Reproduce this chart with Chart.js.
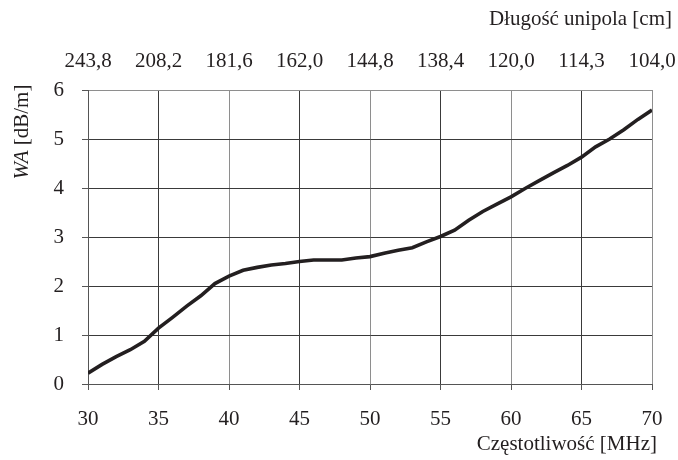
<!DOCTYPE html>
<html>
<head>
<meta charset="utf-8">
<script src="https://cdn.jsdelivr.net/npm/chart.js@4/dist/chart.umd.min.js"></script>
<style>
  html, body { margin: 0; padding: 0; background: #ffffff; }
  #wrap { width: 678px; height: 460px; }
</style>
</head>
<body>
<div id="wrap"><canvas id="c" width="678" height="460"></canvas></div>
<script>
// Frequency sweep [MHz] and measured attenuation WA [dB/m]
const freqMHz = [30, 31, 32, 33, 34, 35, 36, 37, 38, 39, 40, 41, 42, 43, 44, 45, 46, 47, 48, 49, 50,
                 51, 52, 53, 54, 55, 56, 57, 58, 59, 60, 61, 62, 63, 64, 65, 66, 67, 68, 69, 70];
const attenuation = [0.22, 0.40, 0.56, 0.70, 0.87, 1.14, 1.36, 1.59, 1.80, 2.05, 2.20, 2.32, 2.38, 2.43, 2.46, 2.50,
                     2.53, 2.53, 2.53, 2.57, 2.60, 2.67, 2.73, 2.78, 2.90, 3.01, 3.14, 3.34, 3.52, 3.67, 3.82,
                     3.99, 4.15, 4.31, 4.46, 4.63, 4.84, 5.00, 5.19, 5.40, 5.59];

// Bottom axis ticks and the matching monopole lengths shown on the top axis
const freqTicks = [30, 35, 40, 45, 50, 55, 60, 65, 70];
const monopoleLengthCm = ['243,8', '208,2', '181,6', '162,0', '144,8', '138,4', '120,0', '114,3', '104,0'];

const FONT = '"Liberation Serif", "Times New Roman", serif';
const INK = '#231f20';
const DARK_GRID = '#3a3a3a';
const LIGHT_GRID = '#8e8e8e';

const points = freqMHz.map((f, i) => ({ x: f, y: attenuation[i] }));

// Axis titles drawn by hand so "WA" can be italic and titles sit right-aligned
const titlesPlugin = {
  id: 'axisTitles',
  afterDraw(chart) {
    const ctx = chart.ctx;
    ctx.save();
    ctx.fillStyle = INK;
    ctx.textBaseline = 'middle';
    ctx.font = '21px ' + FONT;

    ctx.textAlign = 'right';
    ctx.fillText('Długość unipola [cm]', 672, 19);
    ctx.fillText('Częstotliwość [MHz]', 657, 444);

    // rotated y-axis title
    const italic = 'italic 21px ' + FONT;
    const normal = '21px ' + FONT;
    ctx.font = italic;
    const wA = ctx.measureText('WA').width;
    ctx.font = normal;
    const wRest = ctx.measureText(' [dB/m]').width;
    const total = wA + wRest;
    ctx.translate(22, 132);
    ctx.rotate(-Math.PI / 2);
    ctx.textAlign = 'left';
    ctx.font = italic;
    ctx.fillText('WA', -total / 2, 0);
    ctx.font = normal;
    ctx.fillText(' [dB/m]', -total / 2 + wA, 0);
    ctx.restore();
  }
};

const whiteBg = {
  id: 'whiteBg',
  beforeDraw(chart) {
    const ctx = chart.ctx;
    ctx.save();
    ctx.fillStyle = '#ffffff';
    ctx.fillRect(0, 0, chart.width, chart.height);
    ctx.restore();
  }
};

function noSidePadding(scale) {
  scale.paddingLeft = 0;
  scale.paddingRight = 0;
}

new Chart(document.getElementById('c'), {
  type: 'line',
  data: {
    datasets: [{
      data: points,
      borderColor: INK,
      borderWidth: 3.6,
      pointRadius: 0,
      tension: 0,
      fill: false
    }]
  },
  options: {
    responsive: false,
    devicePixelRatio: 1,
    animation: false,
    layout: { padding: { left: 0, right: 26, top: 0, bottom: 0 } },
    plugins: { legend: { display: false }, tooltip: { enabled: false } },
    scales: {
      x: {
        type: 'linear',
        position: 'bottom',
        min: 30, max: 70,
        afterBuildTicks(scale) { scale.ticks = freqTicks.map(v => ({ value: v })); },
        afterFit(scale) { scale.height = 76; noSidePadding(scale); },
        ticks: {
          color: INK,
          font: { family: FONT, size: 21 },
          padding: 17,
          maxRotation: 0,
          autoSkip: false
        },
        grid: {
          color: ctx => (ctx.tick && ctx.tick.value % 10 === 5) ? DARK_GRID : LIGHT_GRID,
          tickColor: '#555555',
          tickLength: 6,
          lineWidth: 1
        },
        border: { color: '#555555', width: 1 }
      },
      x2: {
        type: 'linear',
        position: 'top',
        min: 30, max: 70,
        afterBuildTicks(scale) { scale.ticks = freqTicks.map(v => ({ value: v })); },
        afterFit(scale) { scale.height = 90; noSidePadding(scale); },
        ticks: {
          color: INK,
          font: { family: FONT, size: 21 },
          padding: 16,
          maxRotation: 0,
          autoSkip: false,
          callback: (v) => {
            const i = freqTicks.indexOf(v);
            return i >= 0 ? monopoleLengthCm[i] : '';
          }
        },
        grid: { drawOnChartArea: false, drawTicks: false },
        border: { color: LIGHT_GRID, width: 1 }
      },
      y: {
        type: 'linear',
        min: 0, max: 6,
        afterFit(scale) { scale.width = 88; },
        ticks: {
          stepSize: 0.5,
          color: INK,
          font: { family: FONT, size: 21 },
          padding: 18,
          callback: v => Number.isInteger(v) ? String(v) : ''
        },
        grid: {
          color: ctx => {
            if (!ctx.tick) return LIGHT_GRID;
            const v = ctx.tick.value;
            if (v === 6 || v === 0) return LIGHT_GRID;
            return Number.isInteger(v) ? DARK_GRID : LIGHT_GRID;
          },
          tickColor: ctx => (ctx.tick && Number.isInteger(ctx.tick.value)) ? '#555555' : 'rgba(0,0,0,0)',
          tickLength: 6,
          lineWidth: 1
        },
        border: { color: '#555555', width: 1 }
      }
    }
  },
  plugins: [whiteBg, titlesPlugin]
});
</script>
</body>
</html>
